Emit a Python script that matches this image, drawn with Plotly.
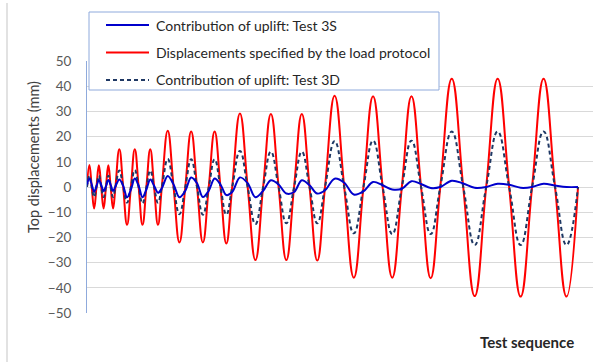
import plotly.graph_objects as go

# ---- data (one entry per loading cycle) ----
cycle_length = [9.5, 9.5, 9.5, 15.5, 15.5, 15.5, 23.5, 23.5, 23.5,
                31, 31, 31, 38.5, 38.5, 38.5, 46, 46, 46]
protocol_peak = [8.7, 8.6, 8.6, 15, 15, 15, 22.3, 22, 22,
                 29.2, 29, 29, 36.2, 36, 36, 43, 43, 43]
protocol_trough = [-8.5, -8.5, -8.5, -15, -15, -15, -22, -22, -22.4,
                   -29, -29, -29.2, -36, -36, -36.2, -43.3, -43.5, -43.5]
test3d_peak = [4.5, 4.5, 4.5, 6.5, 6.7, 6.5, 11.1, 11, 11,
               14.3, 14, 14, 18.2, 18.4, 18.4, 22, 22, 22]
test3d_trough = [-4, -4, -4, -6.2, -6.5, -6.2, -10.8, -11, -11,
                 -14.7, -14.4, -14.4, -18.4, -18.7, -18.7, -23, -23, -23]
test3s_up = [1.0, 0.3, 0.3, 0.2, -1.0, -1.0, -0.5, -1.5, -1.5,
             -2.0, -1.5, -2.0, -1.3, -1.7, -0.7, 0.0, 0.0, 0.0]
test3s_peak = [3.4, 2.8, 2.8, 3.0, 3.4, 3.0, 4.4, 3.8, 3.4,
               3.8, 2.7, 2.7, 3.3, 2.0, 2.3, 2.5, 1.3, 1.3]
test3s_down = [1.0, 0.8, 0.8, 0.5, 0.5, 0.5, 1.0, 1.5, 1.0,
               1.5, 1.0, 0.7, 1.7, 0.7, 1.2, 1.4, 0.9, 0.6]
test3s_trough = [-1.9, -1.6, -1.6, -4.1, -4.1, -2.3, -4.1, -4.0, -3.2,
                 -4.1, -2.6, -2.6, -3.0, -1.0, -0.4, -0.3, -0.3, 0.0]
end_value = 0.0

series_names = ["Contribution of uplift: Test 3S",
                "Displacements specified by the load protocol",
                "Contribution of uplift: Test 3D"]
series_colors = ["#0000CC", "#FF0000", "#1F3864"]
series_dash = ["solid", "solid", "4px,3px"]

# ---- build quarter-cycle sequences ----
x, red, d3, s3 = [], [], [], []
pos = 0.0
for i, L in enumerate(cycle_length):
    q = L / 4
    x += [pos, pos + q, pos + 2 * q, pos + 3 * q]
    red += [0, protocol_peak[i], 0, protocol_trough[i]]
    d3 += [0, test3d_peak[i], 0, test3d_trough[i]]
    s3 += [test3s_up[i], test3s_peak[i], test3s_down[i], test3s_trough[i]]
    pos += L
x.append(pos); red.append(end_value); d3.append(end_value); s3.append(end_value)

fig = go.Figure()
fig.add_trace(go.Scatter(x=x, y=red, mode="lines", name=series_names[1],
                         line=dict(color=series_colors[1], width=2, shape="spline", smoothing=1.3)))
fig.add_trace(go.Scatter(x=x, y=d3, mode="lines", name=series_names[2],
                         line=dict(color=series_colors[2], width=2, dash=series_dash[2],
                                   shape="spline", smoothing=1.3)))
fig.add_trace(go.Scatter(x=x, y=s3, mode="lines", name=series_names[0],
                         line=dict(color=series_colors[0], width=2, shape="spline", smoothing=1.0)))

W, H = 605, 362
L_, R_, T_, B_ = 87, 12, 61, 49
pw = W - L_ - R_
ph = H - T_ - B_
xmax = pos * pw / (578 - 87)


def px(v):
    return (v - L_) / pw


def py(v):
    return (H - B_ - v) / ph


fig.update_layout(
    width=W, height=H,
    margin=dict(l=L_, r=R_, t=T_, b=B_),
    paper_bgcolor="white", plot_bgcolor="white",
    font=dict(family="Lato", color="#404040"),
    showlegend=False,
)
fig.update_xaxes(range=[0, xmax], showgrid=False, zeroline=False, showticklabels=False,
                 ticks="", showline=False)
fig.update_yaxes(range=[-50, 50], dtick=10, tick0=0, showgrid=True, gridcolor="#D9D9D9", gridwidth=1,
                 zeroline=False, showline=True, linecolor="#8FAADC", linewidth=1,
                 ticks="", ticklabelstandoff=12,
                 tickfont=dict(size=13.5, family="Lato", color="#595959"))

# y-axis title (centred as in the reference)
fig.add_annotation(xref="paper", yref="paper", x=px(33), y=py(157), textangle=-90,
                   xanchor="center", yanchor="middle", showarrow=False,
                   text="Top displacements (mm)",
                   font=dict(size=14.5, family="Lato", color="#404040"))
# x-axis title
fig.add_annotation(xref="paper", yref="paper", x=px(576), y=py(342),
                   xanchor="right", yanchor="middle", showarrow=False,
                   text="<b>Test sequence</b>", font=dict(size=15, family="Lato", color="#262626"))
# chart border (left edge)
fig.add_shape(type="line", xref="paper", yref="paper",
              x0=px(7), x1=px(7), y0=py(3), y1=py(362),
              line=dict(color="#D9D9D9", width=1.5))

# legend box
fig.add_shape(type="rect", xref="paper", yref="paper",
              x0=px(89), x1=px(439), y0=py(12), y1=py(90),
              line=dict(color="#8FAADC", width=1), fillcolor="white", layer="above")
for k, yy in enumerate([25, 52.5, 80]):
    fig.add_shape(type="line", xref="paper", yref="paper",
                  x0=px(106), x1=px(149), y0=py(yy), y1=py(yy),
                  line=dict(color=series_colors[k], width=2, dash=series_dash[k]), layer="above")
    fig.add_annotation(xref="paper", yref="paper", x=px(154), y=py(yy),
                       xanchor="left", yanchor="middle", showarrow=False,
                       text=series_names[k], font=dict(size=14, family="Lato", color="#262626"))

fig.write_html("out.html")
